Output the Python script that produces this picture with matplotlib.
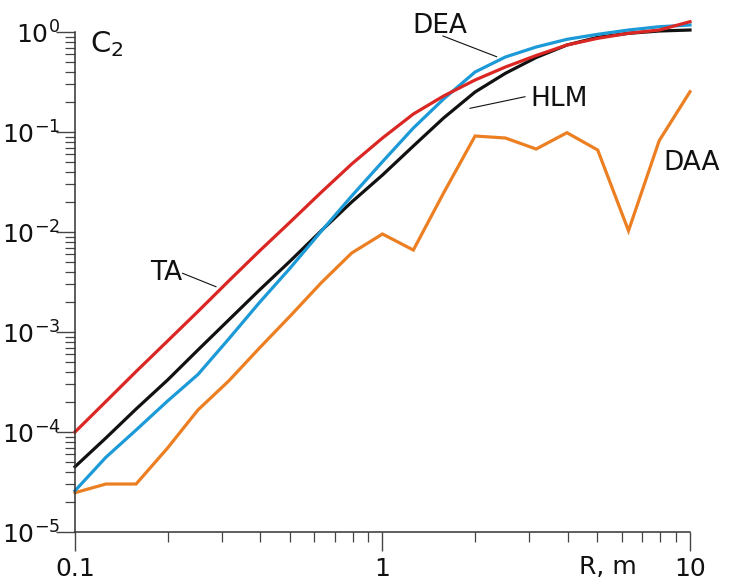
import matplotlib
matplotlib.use("Agg")
import matplotlib.pyplot as plt
from matplotlib.ticker import LogLocator, FixedLocator, FuncFormatter, NullFormatter
import numpy as np

plt.rcParams['font.family'] = ['DejaVu Sans']
plt.rcParams['mathtext.default'] = 'regular'

# Separation distance R (m), tenth-decade steps
r = [0.1, 0.126, 0.158, 0.2, 0.251, 0.316, 0.398, 0.501, 0.631, 0.794,
     1.0, 1.26, 1.58, 2.0, 2.51, 3.16, 3.98, 5.01, 6.31, 7.94, 10.0]

# log10 of the second moment C2 for each model
log_ta = [-4.00, -3.695, -3.395, -3.09, -2.795, -2.49, -2.19, -1.90, -1.605, -1.32,
          -1.06, -0.82, -0.64, -0.48, -0.35, -0.235, -0.13, -0.063, -0.013, 0.02, 0.103]
log_hlm = [-4.347, -4.06, -3.77, -3.48, -3.18, -2.88, -2.58, -2.29, -1.99, -1.70,
           -1.43, -1.14, -0.86, -0.60, -0.413, -0.255, -0.13, -0.053, -0.013, 0.01, 0.02]
log_dea = [-4.587, -4.253, -3.98, -3.69, -3.425, -3.07, -2.705, -2.36, -1.995, -1.64,
           -1.297, -0.96, -0.67, -0.40, -0.25, -0.15, -0.073, -0.023, 0.02, 0.053, 0.07]
log_daa = [-4.607, -4.52, -4.52, -4.16, -3.78, -3.49, -3.16, -2.84, -2.51, -2.21,
           -2.02, -2.18, -1.61, -1.04, -1.06, -1.17, -1.007, -1.18, -1.987, -1.087, -0.597]

series = [
    ("TA", log_ta, "#db2724"),
    ("HLM", log_hlm, "#111111"),
    ("DEA", log_dea, "#1c9ad8"),
    ("DAA", log_daa, "#ec7f22"),
]

x_ticks = [0.1, 1, 10]
x_tick_labels = ["0.1", "1", "10"]
y_ticks = [1e-5, 1e-4, 1e-3, 1e-2, 1e-1, 1e0]

fig = plt.figure(figsize=(7.31, 5.81), dpi=100)
ax = fig.add_axes([0.1026, 0.0843, 0.8413, 0.8606])

draw_order = ["DAA", "HLM", "DEA", "TA"]
for name in draw_order:
    for n, vals, col in series:
        if n == name:
            ax.plot(r, 10 ** np.array(vals), color=col, lw=2.3,
                    solid_joinstyle='miter', clip_on=False)

ax.set_xscale('log')
ax.set_yscale('log')
ax.set_xlim(0.1, 10)
ax.set_ylim(1e-5, 1)

for s in ['top', 'right']:
    ax.spines[s].set_visible(False)
for s in ['left', 'bottom']:
    ax.spines[s].set_color('#333333')
    ax.spines[s].set_linewidth(1.1)

ax.xaxis.set_major_locator(FixedLocator(x_ticks))
ax.xaxis.set_major_formatter(FuncFormatter(
    lambda v, p: x_tick_labels[x_ticks.index(min(x_ticks, key=lambda t: abs(t - v)))]))
ax.xaxis.set_minor_locator(LogLocator(base=10, subs=np.arange(2, 10)))
ax.xaxis.set_minor_formatter(NullFormatter())

ax.yaxis.set_major_locator(FixedLocator(y_ticks))
ax.yaxis.set_major_formatter(FuncFormatter(
    lambda v, p: r'10$^{%d}$' % int(round(np.log10(v)))))
ax.yaxis.set_minor_locator(LogLocator(base=10, subs=np.arange(2, 10)))
ax.yaxis.set_minor_formatter(NullFormatter())

ax.tick_params(which='major', direction='out', length=14, width=1.0,
               color='#444444', labelsize=18, labelcolor='#111111')
ax.tick_params(which='minor', direction='out', length=7, width=0.9,
               color='#444444')
ax.tick_params(axis='x', which='major', pad=4)
ax.tick_params(axis='y', which='major', pad=-3.5)

ax.set_xlabel("R, m", fontsize=18, color='#111111')
ax.xaxis.set_label_coords(0.8667, -0.07)
ax.xaxis.label.set_va('center')

# Curve names with leader lines
lbl = dict(fontsize=19, color='#111111', va='baseline')
ax.text(1.247, 0.977, "DEA", ha='left', **lbl)
ax.plot([1.573, 2.351], [0.912, 0.566], color='#111111', lw=0.8, clip_on=False)
ax.text(3.018, 0.182, "HLM", ha='left', **lbl)
ax.plot([2.907, 1.926], [0.2254, 0.1726], color='#111111', lw=0.8)
ax.text(8.17, 0.0417, "DAA", ha='left', **lbl)
ax.text(0.2228, 0.00331, "TA", ha='right', **lbl)
ax.plot([0.2239, 0.2874], [0.003864, 0.002838], color='#111111', lw=0.8)

ax.text(0.024, 0.96, r"C$_{2}$", transform=ax.transAxes, fontsize=21,
        color='#111111', ha='left', va='baseline')

fig.savefig("out.png", dpi=100)
